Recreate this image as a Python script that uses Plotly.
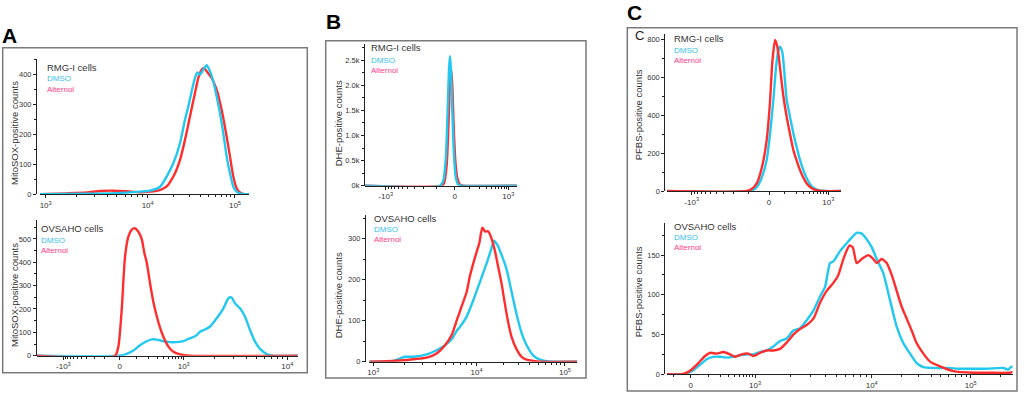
import math
import plotly.graph_objects as go

W, H = 1024, 395

# ---------------- DATA (x in display channels of each plot, y in counts) ----------------
# Panel A, RMG-I (MitoSOX)
a1_ch_dmso = [0,130,230,300,330,360,380,400,420,435,445,455,465,472,480,490,500,508,520,530,540,550,560,570,580,590,605,628]
a1_dmso = [0,2,4,9,12,25,59,103,170,248,292,342,387,405,398,414,429,414,376,326,270,203,126,70,26,9,1,0]
a1_ch_alt = [0,80,140,180,220,260,300,330,360,380,400,420,435,450,465,475,485,492,500,515,530,545,560,570,580,590,600,615,628]
a1_alt = [0,3,6,11,12,10,7,9,14,26,59,114,181,259,337,387,414,420,409,387,348,281,192,126,59,20,6,0,0]

# Panel A, OVSAHO (MitoSOX)
a2_ch_dmso = [0,245,270,290,310,330,345,360,380,400,420,440,455,470,480,490,505,520,540,560,575,585,595,610,625,640,655,670,690,710,783]
a2_dmso = [0,0,8,22,45,62,70,69,62,58,58,62,72,80,88,103,112,125,160,203,246,249,224,203,167,110,60,29,7,0,0]
a2_ch_alt = [0,235,245,255,265,275,285,293,305,315,323,330,340,350,360,370,380,395,410,430,460,783]
a2_alt = [0,0,39,196,424,510,539,546,531,500,440,400,310,230,170,120,81,39,17,6,0,0]

# Panel B, RMG-I (DHE)
b1_ch_dmso = [0,225,235,243,248,252,255,258,262,267,273,280,290,457]
b1_dmso = [0,0,100,600,1500,2300,2580,2300,1500,600,150,20,0,0]
b1_ch_alt = [0,230,237,245,251,255,258,262,266,271,277,285,295,457]
b1_alt = [0,0,50,400,1300,2100,2350,2000,1200,500,150,20,0,0]

# Panel B, OVSAHO (DHE)
b2_ch_dmso = [0,72,107,132,172,202,227,247,262,272,292,312,332,352,364,374,384,397,412,427,442,457,472,492,512,532,552,624]
b2_dmso = [0,2,12,12,18,28,40,55,75,85,110,150,195,240,270,295,285,260,225,170,115,70,40,15,5,1,0,0]
b2_ch_alt = [0,52,92,132,172,202,227,247,262,277,292,302,312,322,330,339,347,357,367,377,387,397,407,417,427,442,457,472,492,512,624]
b2_alt = [0,1,3,6,10,20,40,65,100,135,170,210,240,268,289,327,318,318,300,270,230,190,140,95,60,30,12,5,2,0,0]

# Panel C, RMG-I (PFBS)
c1_ch_dmso = [0,250,270,285,300,310,320,328,335,340,347,355,360,370,380,390,400,410,420,435,455,475,523]
c1_dmso = [0,0,20,70,163,300,479,650,740,760,730,580,479,390,304,230,163,110,67,25,5,0,0]
c1_ch_alt = [0,240,255,270,285,300,310,317,325,332,340,350,360,370,380,390,400,410,420,435,450,470,523]
c1_alt = [0,0,10,40,120,268,470,680,795,760,650,500,391,300,216,160,110,70,40,15,4,0,0]

# Panel C, OVSAHO (PFBS)
c2_ch_dmso = [0,50,60,80,100,120,140,160,180,200,220,240,260,280,300,320,340,360,380,400,420,440,460,475,490,500,520,540,555,570,585,600,615,630,650,670,690,710,730,750,770,800,840,880,920,960,1010,1025,1032,1038]
c2_dmso = [0,0,1,5,12,19,22,22,21,22,24,25,25,28,30,35,42,45,55,58,68,80,98,110,140,142,155,165,172,178,177,170,160,145,127,93,60,39,26,14,9,8,8,7,7,7,8,6,9,10]
c2_ch_alt = [0,45,60,75,95,115,130,150,170,190,205,225,245,260,280,300,320,340,360,380,400,420,440,460,480,500,515,530,548,558,570,585,605,620,630,645,660,675,690,705,720,735,750,770,790,820,860,920,960,1030,1038]
c2_alt = [0,0,2,6,14,23,27,26,28,25,22,25,26,23,27,30,30,32,40,50,57,62,70,90,105,115,125,145,162,160,140,145,150,145,140,145,140,125,105,85,70,55,39,26,16,10,4,2,2,2,3]

# tick labels
lbl_m3 = "-10<sup>3</sup>"
lbl_0 = "0"
lbl_3 = "10<sup>3</sup>"
lbl_4 = "10<sup>4</sup>"
lbl_5 = "10<sup>5</sup>"

# ---------------- STYLE ----------------
RED = "#ff2e2e"
CYAN = "#22c8f0"
DMSO_TXT = "#33c0ee"
ALT_TXT = "#ff3d8c"
TXT = "#333333"
FONT = "Liberation Sans"


def log_minor(majors, lo, hi):
    out = []
    for i in range(len(majors) - 1):
        a, b = majors[i], majors[i + 1]
        for k in range(2, 10):
            out.append(a + (b - a) * math.log10(k))
    if len(majors) >= 2:
        a, b = majors[-2], majors[-1]
        for k in range(2, 10):
            p = b + (b - a) * math.log10(k)
            if p <= hi:
                out.append(p)
    return [p for p in out if lo <= p <= hi]


def biex_minor(zero, pos_major, neg_major=None, nneg=9):
    f = [math.asinh(k * 100 / 120) / math.asinh(1000 / 120) for k in range(1, 10)]
    out = [zero + (pos_major - zero) * v for v in f]
    if neg_major is not None:
        out += [zero - (zero - neg_major) * v for v in f]
    else:
        out += [zero - (pos_major - zero) * v for v in f[:nneg]]
    return out


panels = [
    dict(xs=(40, 249.3), xmax=628, yl=36, y0=194.3, yt=59, ymax=450,
         yt_vals=[0, 100, 200, 300, 400], yt_text=None, yminor=50,
         xt=[17, 323, 585], xl=[lbl_3, lbl_4, lbl_5],
         minor=log_minor([17, 323, 585], 0, 628),
         dm=(a1_ch_dmso, a1_dmso), al=(a1_ch_alt, a1_alt), top="blue"),
    dict(xs=(36.7, 297.7), xmax=783, yl=35.7, y0=355.7, yt=220, ymax=581,
         yt_vals=[0, 100, 200, 300, 400, 500], yt_text=None, yminor=50,
         xt=[80, 249, 441, 752], xl=[lbl_m3, lbl_0, lbl_3, lbl_4],
         minor=biex_minor(249, 441, 80) + log_minor([441, 752], 0, 783),
         dm=(a2_ch_dmso, a2_dmso), al=(a2_ch_alt, a2_alt), top="red"),
    dict(xs=(365, 517.3), xmax=457, yl=364, y0=185.7, yt=44, ymax=2820,
         yt_vals=[0, 500, 1000, 1500, 2000, 2500], yt_text=["0k", "0.5k", "1.0k", "1.5k", "2.0k", "2.5k"], yminor=250,
         xt=[62, 269, 430], xl=[lbl_m3, lbl_0, lbl_3],
         minor=biex_minor(269, 430, 62),
         dm=(b1_ch_dmso, b1_dmso), al=(b1_ch_alt, b1_alt), top="blue"),
    dict(xs=(369.3, 577.3), xmax=624, yl=365, y0=361.7, yt=215, ymax=358,
         yt_vals=[0, 100, 200, 300], yt_text=None, yminor=50,
         xt=[12, 322, 587], xl=[lbl_3, lbl_4, lbl_5],
         minor=log_minor([12, 322, 587], 0, 624),
         dm=(b2_ch_dmso, b2_dmso), al=(b2_ch_alt, b2_alt), top="red"),
    dict(xs=(666.7, 841), xmax=523, yl=664.3, y0=191, yt=34.3, ymax=825,
         yt_vals=[0, 200, 400, 600, 800], yt_text=None, yminor=100,
         xt=[75, 307, 485], xl=[lbl_m3, lbl_0, lbl_3],
         minor=biex_minor(307, 485, 75),
         dm=(c1_ch_dmso, c1_dmso), al=(c1_ch_alt, c1_alt), top="red"),
    dict(xs=(666.7, 1012.7), xmax=1038, yl=664.3, y0=374.3, yt=223.3, ymax=190,
         yt_vals=[0, 50, 100, 150], yt_text=None, yminor=25,
         xt=[72, 265, 615, 912], xl=[lbl_0, lbl_3, lbl_4, lbl_5],
         minor=[p for p in biex_minor(72, 265, None, 6) if p >= 0] + log_minor([265, 615, 912], 0, 1038),
         dm=(c2_ch_dmso, c2_dmso), al=(c2_ch_alt, c2_alt), top="red"),
]

fig = go.Figure()
layout = {}

for i, p in enumerate(panels, start=1):
    xa = "x" if i == 1 else f"x{i}"
    ya = "y" if i == 1 else f"y{i}"
    xkey = "xaxis" if i == 1 else f"xaxis{i}"
    ykey = "yaxis" if i == 1 else f"yaxis{i}"

    dmx, dmy = p["dm"]
    alx, aly = p["al"]
    tr_dm = go.Scatter(x=dmx, y=dmy, mode="lines", line=dict(color=CYAN, width=2.4, shape="spline", smoothing=0.6),
                       xaxis=xa, yaxis=ya, name="DMSO", hoverinfo="skip", cliponaxis=False)
    tr_al = go.Scatter(x=alx, y=aly, mode="lines", line=dict(color=RED, width=2.4, shape="spline", smoothing=0.6),
                       xaxis=xa, yaxis=ya, name="Alternol", hoverinfo="skip", cliponaxis=False)
    if p["top"] == "blue":
        fig.add_trace(tr_al)
        fig.add_trace(tr_dm)
    else:
        fig.add_trace(tr_dm)
        fig.add_trace(tr_al)

    x0, x1 = p["xs"]
    layout[xkey] = dict(
        domain=[x0 / W, x1 / W], range=[0, p["xmax"]], anchor=ya,
        showline=True, linecolor="#222", linewidth=1, showgrid=False, zeroline=False,
        tickmode="array", tickvals=p["xt"], ticktext=p["xl"], ticks="outside", ticklen=3,
        tickcolor="#222", tickwidth=1,
        tickfont=dict(family=FONT, size=8, color=TXT),
        minor=dict(tickmode="array", tickvals=p["minor"], ticks="outside", ticklen=2,
                   tickcolor="#222", tickwidth=1, showgrid=False),
        fixedrange=True,
    )
    ymin_vals = [v for v in range(0, int(p["ymax"]) + 1, p["yminor"]) if v not in p["yt_vals"]]
    yd = dict(
        domain=[1 - p["y0"] / H, 1 - p["yt"] / H], range=[0, p["ymax"]],
        anchor="free", position=p["yl"] / W,
        showline=True, linecolor="#222", linewidth=1, showgrid=False, zeroline=False,
        tickmode="array", tickvals=p["yt_vals"], ticks="outside", ticklen=3,
        tickcolor="#222", tickwidth=1,
        tickfont=dict(family=FONT, size=7.5, color=TXT),
        minor=dict(tickmode="array", tickvals=ymin_vals, ticks="outside", ticklen=2,
                   tickcolor="#222", tickwidth=1, showgrid=False),
        fixedrange=True,
    )
    if p["yt_text"] is not None:
        yd["ticktext"] = p["yt_text"]
    layout[ykey] = yd


def ax(x):
    return x / W


def ay(y):
    return 1 - y / H


annotations = []


def text(x, y, s, size, color=TXT, xanchor="left", angle=0, bold=False):
    annotations.append(dict(
        x=ax(x), y=ay(y), xref="paper", yref="paper", text=("<b>%s</b>" % s) if bold else s,
        showarrow=False, xanchor=xanchor, yanchor="middle", textangle=angle, borderpad=0,
        font=dict(family=FONT, size=size, color=color),
    ))


# panel letters
text(1, 35, "A", 21, "#000", bold=True)
text(325, 22, "B", 21, "#000", bold=True)
text(626, 12, "C", 21, "#000", bold=True)
text(634, 35, "C", 13, "#222")

# cell-line labels and legends
for (xx, y1, y2, y3, name) in [
    (46, 67.3, 79, 89.3, "RMG-I cells"),
    (40, 228.3, 240, 250.3, "OVSAHO cells"),
    (370, 47.7, 60.3, 70.7, "RMG-I cells"),
    (373, 218.3, 229, 239.7, "OVSAHO cells"),
    (673, 38.3, 50.7, 61, "RMG-I cells"),
    (673, 226.7, 237.3, 247.3, "OVSAHO cells"),
]:
    text(xx, y1, name, 9.5, "#333")
    text(xx, y2, "DMSO", 8, DMSO_TXT)
    text(xx, y3, "Alternol", 8, ALT_TXT)

# y-axis titles
text(14, 133, "MitoSOX-positive counts", 9.5, "#333", xanchor="center", angle=-90)
text(14, 295, "MitoSOX-positive counts", 9.5, "#333", xanchor="center", angle=-90)
text(338.3, 123, "DHE-positive counts", 9.5, "#333", xanchor="center", angle=-90)
text(338.3, 295, "DHE-positive counts", 9.5, "#333", xanchor="center", angle=-90)
text(638.3, 115, "PFBS-positive counts", 9.5, "#333", xanchor="center", angle=-90)
text(638.3, 292, "PFBS-positive counts", 9.5, "#333", xanchor="center", angle=-90)

# panel frames
shapes = []
for (bx0, by0, bx1, by1) in [(2.7, 47.7, 307.3, 372.7), (325.7, 40.7, 586, 378), (627.3, 27.7, 1017, 391)]:
    shapes.append(dict(type="rect", xref="paper", yref="paper",
                       x0=ax(bx0), x1=ax(bx1), y0=ay(by1), y1=ay(by0),
                       line=dict(color="#7a7a7a", width=1.5), fillcolor="rgba(0,0,0,0)", layer="below"))

fig.update_layout(
    width=W, height=H, margin=dict(l=0, r=0, t=0, b=0, pad=0, autoexpand=False),
    paper_bgcolor="white", plot_bgcolor="white", showlegend=False, hovermode=False,
    annotations=annotations, shapes=shapes, **layout,
)

fig.write_html("out.html", config={"displayModeBar": False, "staticPlot": True},
               post_script="document.body.style.margin='0';document.body.style.overflow='hidden';")
